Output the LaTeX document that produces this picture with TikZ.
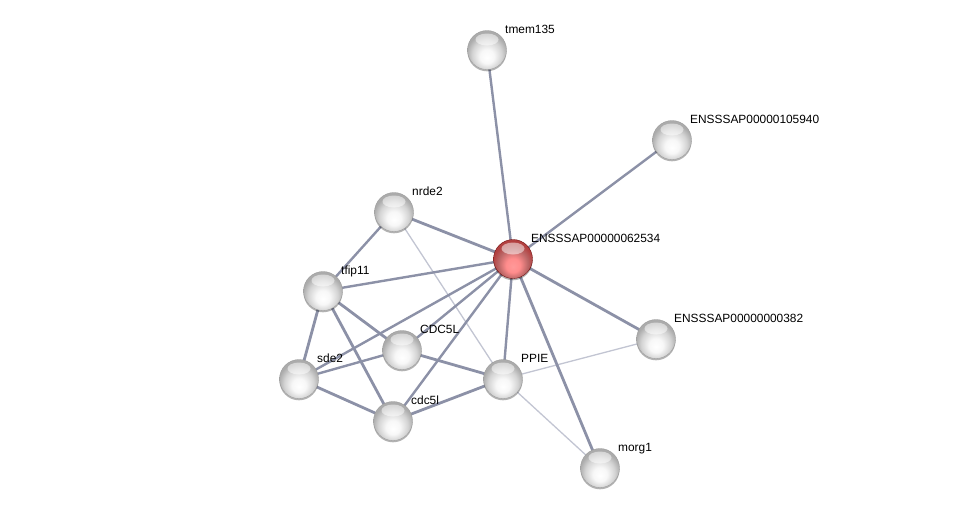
\documentclass[tikz,border=0pt]{standalone}
\usepackage{fontspec}
\setmainfont{Liberation Sans}
\usetikzlibrary{backgrounds,shadows,calc}
\pgfdeclareradialshading{greysphere}{\pgfpoint{0bp}{-10bp}}{color(0bp)=(white); color(9bp)=(white!97!black); color(19bp)=(black!17); color(26bp)=(black!33); color(50bp)=(black!33)}
\pgfdeclareradialshading{redsphere}{\pgfpoint{0bp}{-10bp}}{color(0bp)=(red!40!white); color(9bp)=(red!45!white); color(19bp)=(red!55!black!60!white); color(26bp)=(red!60!black!75!white); color(50bp)=(red!60!black!75!white)}
\definecolor{edgecol}{HTML}{8C91A7}
\definecolor{lightedge}{HTML}{C2C5D2}
\tikzset{
  x=1pt, y=-1pt,
  sphere/.style={circle, minimum size=39pt, inner sep=0pt, shading=greysphere,
    draw=black!40, line width=0.3pt,
    drop shadow={shadow xshift=0pt, shadow yshift=-1.8pt, opacity=0.3, fill=black},
    path picture={\fill[white, opacity=0.5] ($(path picture bounding box.center)+(0,-10.5)$) ellipse (11.5pt and 6pt);}},
  redsph/.style={sphere, shading=redsphere, draw=red!40!black},
  lbl/.style={anchor=base west, inner sep=0pt, font=\fontsize{11.9}{14}\selectfont},
  edge/.style={draw=edgecol, line width=2.4pt},
  thinedge/.style={draw=lightedge, line width=1.3pt},
}
\begin{document}
\begin{tikzpicture}
\useasboundingbox (0,0) rectangle (975,512);
\node[sphere] (tmem) at (487,50) {};
\node[sphere] (e105) at (672,140) {};
\node[sphere] (nrde) at (394,212) {};
\node[redsph] (ctr) at (513,259) {};
\node[sphere] (tfip) at (323,291) {};
\node[sphere] (e382) at (656,339) {};
\node[sphere] (CDC) at (402,350) {};
\node[sphere] (sde) at (299,379) {};
\node[sphere] (ppie) at (503,379) {};
\node[sphere] (cdc) at (393,421) {};
\node[sphere] (morg) at (600,468) {};
\node[lbl] (ltmem) at ($(tmem)+(18,-17)$) {tmem135};
\node[lbl] (le105) at ($(e105)+(18,-17)$) {ENSSSAP00000105940};
\node[lbl] (lnrde) at ($(nrde)+(18,-17)$) {nrde2};
\node[lbl] (lctr) at ($(ctr)+(18,-17)$) {ENSSSAP00000062534};
\node[lbl] (ltfip) at ($(tfip)+(18,-17)$) {tfip11};
\node[lbl] (le382) at ($(e382)+(18,-17)$) {ENSSSAP00000000382};
\node[lbl] (lCDC) at ($(CDC)+(18,-17)$) {CDC5L};
\node[lbl] (lsde) at ($(sde)+(18,-17)$) {sde2};
\node[lbl] (lppie) at ($(ppie)+(18,-17)$) {PPIE};
\node[lbl] (lcdc) at ($(cdc)+(18,-17)$) {cdc5l};
\node[lbl] (lmorg) at ($(morg)+(18,-17)$) {morg1};
\begin{pgfonlayer}{background}
\draw[thinedge] (nrde.center) -- (ppie.center);
\draw[thinedge] (ppie.center) -- (e382.center);
\draw[thinedge] (ppie.center) -- (morg.center);
\draw[edge] (ctr.center) -- (tmem.center);
\draw[edge] (ctr.center) -- (e105.center);
\draw[edge, line width=2.8pt] (ctr.center) -- (nrde.center);
\draw[edge] (ctr.center) -- (tfip.center);
\draw[edge] (ctr.center) -- (sde.center);
\draw[edge] (ctr.center) -- (CDC.center);
\draw[edge] (ctr.center) -- (cdc.center);
\draw[edge] (ctr.center) -- (ppie.center);
\draw[edge, line width=2.8pt] (ctr.center) -- (e382.center);
\draw[edge, line width=2.8pt] (ctr.center) -- (morg.center);
\draw[edge] (nrde.center) -- (tfip.center);
\draw[edge, line width=2.8pt] (tfip.center) -- (sde.center);
\draw[edge, line width=2.8pt] (tfip.center) -- (CDC.center);
\draw[edge, line width=2.8pt] (tfip.center) -- (cdc.center);
\draw[edge] (sde.center) -- (CDC.center);
\draw[edge, line width=2.8pt] (sde.center) -- (cdc.center);
\draw[edge, line width=2.8pt] (CDC.center) -- (ppie.center);
\draw[edge, line width=2.8pt] (cdc.center) -- (ppie.center);
\end{pgfonlayer}
\end{tikzpicture}
\end{document}
